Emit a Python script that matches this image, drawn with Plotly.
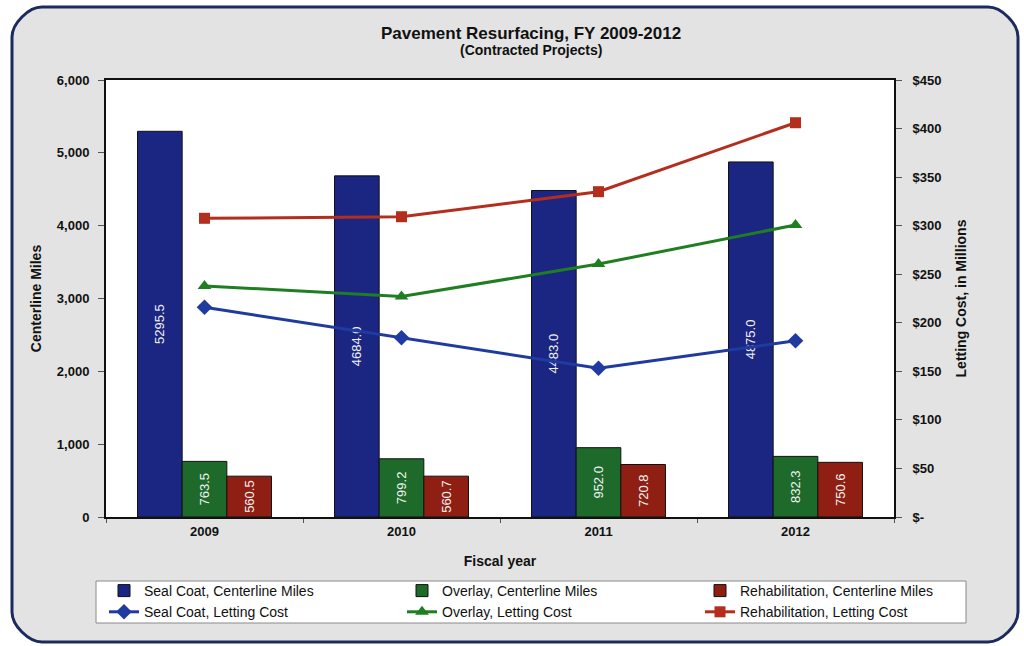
import plotly.graph_objects as go

# Fiscal years and program data
years = ["2009", "2010", "2011", "2012"]

seal_miles = [5295.5, 4684.0, 4483.0, 4875.0]
overlay_miles = [763.5, 799.2, 952.0, 832.3]
rehab_miles = [560.5, 560.7, 720.8, 750.6]

# Letting cost, in millions of dollars
seal_cost = [216, 184.6, 153.1, 181.5]
overlay_cost = [238, 227, 260.5, 300.7]
rehab_cost = [307.6, 309.2, 335.0, 406.0]

cost_ticks = [0, 50, 100, 150, 200, 250, 300, 350, 400, 450]
cost_ticktext = ["$-", "$50", "$100", "$150", "$200", "$250", "$300", "$350", "$400", "$450"]

W, H = 1024, 646
L, R, T, B = 106, 130, 80, 129
PW, PH = W - L - R, H - T - B

FONT = "Liberation Sans, Arial, sans-serif"

bar_colors = {"seal": "#1b2683", "overlay": "#1d6a2b", "rehab": "#8f1f12"}
line_colors = {"seal": "#1f3aa0", "overlay": "#1f7d22", "rehab": "#b32e1c"}

fig = go.Figure()

for name, vals, key in [
    ("Seal Coat, Centerline Miles", seal_miles, "seal"),
    ("Overlay, Centerline Miles", overlay_miles, "overlay"),
    ("Rehabilitation, Centerline Miles", rehab_miles, "rehab"),
]:
    fig.add_trace(go.Bar(
        x=years, y=vals, name=name,
        marker=dict(color=bar_colors[key], line=dict(color="#111111", width=1)),
        texttemplate="%{y:.1f}", textposition="inside", textangle=-90,
        insidetextanchor="middle", constraintext="none",
        textfont=dict(color="#f2f2f2", size=13, family=FONT),
        hoverinfo="skip",
    ))

for name, vals, key, sym, size in [
    ("Seal Coat, Letting Cost", seal_cost, "seal", "diamond", 12),
    ("Overlay, Letting Cost", overlay_cost, "overlay", "triangle-up", 12),
    ("Rehabilitation, Letting Cost", rehab_cost, "rehab", "square", 11),
]:
    fig.add_trace(go.Scatter(
        x=years, y=vals, name=name, yaxis="y2", mode="lines+markers",
        line=dict(color=line_colors[key], width=3),
        marker=dict(symbol=sym, size=size, color=line_colors[key]),
        hoverinfo="skip",
    ))


def px_x(px):
    return (px - L) / PW


def px_y(py):
    return (H - B - py) / PH


# Rounded frame around the whole chart
x0, y0, x1, y1, r = 12, 7, 1018, 642, 30
k = 0.45 * r
pts = [
    f"M{px_x(x0 + r)},{px_y(y0)}",
    f"L{px_x(x1 - r)},{px_y(y0)}",
    f"C{px_x(x1 - r + k)},{px_y(y0)} {px_x(x1)},{px_y(y0 + r - k)} {px_x(x1)},{px_y(y0 + r)}",
    f"L{px_x(x1)},{px_y(y1 - r)}",
    f"C{px_x(x1)},{px_y(y1 - r + k)} {px_x(x1 - r + k)},{px_y(y1)} {px_x(x1 - r)},{px_y(y1)}",
    f"L{px_x(x0 + r)},{px_y(y1)}",
    f"C{px_x(x0 + r - k)},{px_y(y1)} {px_x(x0)},{px_y(y1 - r + k)} {px_x(x0)},{px_y(y1 - r)}",
    f"L{px_x(x0)},{px_y(y0 + r)}",
    f"C{px_x(x0)},{px_y(y0 + r - k)} {px_x(x0 + r - k)},{px_y(y0)} {px_x(x0 + r)},{px_y(y0)}",
    "Z",
]
fig.add_shape(type="path", xref="paper", yref="paper", path=" ".join(pts),
              fillcolor="#e3e3e3", line=dict(color="#1b2b5e", width=3), layer="below")
# White plotting area on top of the frame fill
fig.add_shape(type="rect", xref="paper", yref="paper", x0=0, y0=0, x1=1, y1=1,
              fillcolor="white", line=dict(width=0), layer="below")
# Legend box
fig.add_shape(type="rect", xref="paper", yref="paper",
              x0=px_x(96), x1=px_x(966), y0=px_y(623), y1=px_y(581),
              fillcolor="white", line=dict(color="#8a8a8a", width=1), layer="below")

fig.add_annotation(text="<b>Pavement Resurfacing, FY 2009-2012</b>", xref="paper", yref="paper",
                   x=px_x(531), y=px_y(33), xanchor="center", yanchor="middle", showarrow=False,
                   font=dict(family=FONT, size=17, color="#111111"))
fig.add_annotation(text="<b>(Contracted Projects)</b>", xref="paper", yref="paper",
                   x=px_x(531), y=px_y(50), xanchor="center", yanchor="middle", showarrow=False,
                   font=dict(family=FONT, size=14, color="#111111"))

tickfont = dict(family=FONT, size=13, color="#111111", weight="bold")
titlefont = dict(family=FONT, size=14, color="#111111", weight="bold")

fig.update_layout(
    width=W, height=H,
    margin=dict(l=L, r=R, t=T, b=B, pad=0, autoexpand=False),
    paper_bgcolor="white", plot_bgcolor="white",
    barmode="group", bargap=0.32, bargroupgap=0,
    showlegend=True,
    legend=dict(
        orientation="h", x=px_x(104), xanchor="left", y=px_y(575), yanchor="top",
        bgcolor="rgba(0,0,0,0)", borderwidth=0,
        font=dict(family=FONT, size=14, color="#111111"),
        entrywidth=253, tracegroupgap=0, itemwidth=30,
    ),
    xaxis=dict(
        type="category", showgrid=False, showline=True, linecolor="#111111", linewidth=2,
        mirror=True, ticks="outside", ticklen=4, tickson="boundaries", tickcolor="#555555",
        tickfont=tickfont, ticklabelstandoff=1,
        title=dict(text="Fiscal year", font=titlefont, standoff=19),
    ),
    yaxis=dict(
        range=[0, 6000], dtick=1000, tickformat=",", showgrid=False, zeroline=False,
        showline=True, linecolor="#111111", linewidth=2, ticks="outside", ticklen=6,
        tickcolor="#555555", tickfont=tickfont, ticklabelstandoff=6,
        title=dict(text="Centerline Miles", font=titlefont, standoff=12),
    ),
    yaxis2=dict(
        range=[0, 450], overlaying="y", side="right", tickvals=cost_ticks, ticktext=cost_ticktext,
        showgrid=False, zeroline=False, showline=True, linecolor="#111111", linewidth=2,
        ticks="outside", ticklen=6, tickcolor="#555555", tickfont=tickfont, ticklabelstandoff=8,
        title=dict(text="Letting Cost, in Millions", font=titlefont, standoff=16),
    ),
)

fig.write_html("out.html")
